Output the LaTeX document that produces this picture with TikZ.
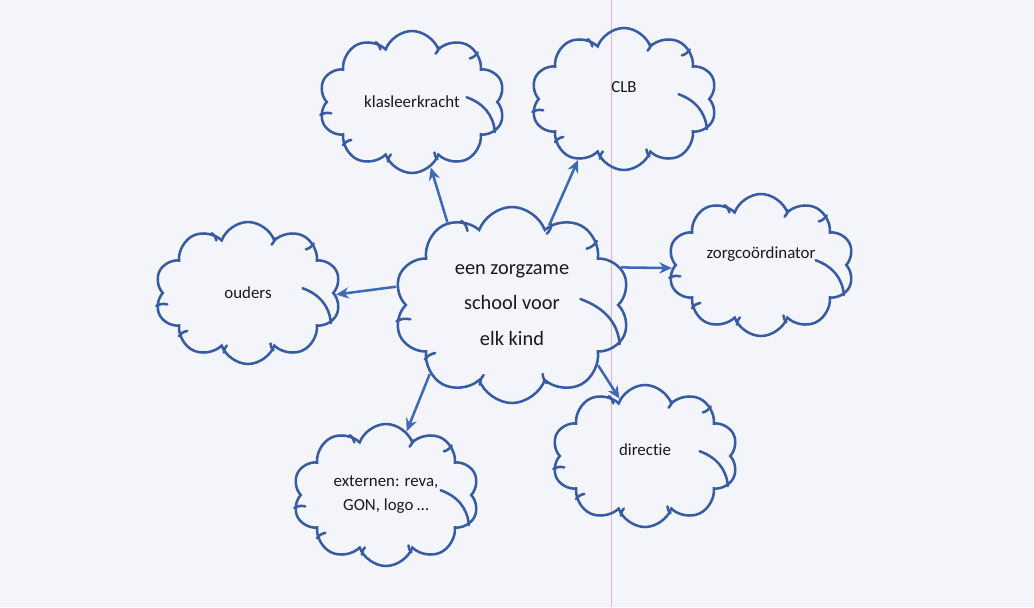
\documentclass[tikz,border=0pt]{standalone}
\usepackage{fontspec}
\setmainfont{Carlito}[Ligatures=NoCommon]
\usetikzlibrary{shapes.symbols,arrows.meta,calc}
\definecolor{paper}{RGB}{243,245,251}
\definecolor{cloudblue}{RGB}{55,92,162}
\definecolor{arrowblue}{RGB}{62,104,184}
\definecolor{marginpink}{RGB}{236,176,204}

\begin{document}
\begin{tikzpicture}[
    bubble/.style={cloud, cloud puffs=10, cloud puff arc=140, cloud ignores aspect,
      draw=cloudblue, line width=1.8pt, minimum width=4.65cm, minimum height=3.55cm,
      align=center, text=black!90, font=\fontsize{12}{17}\selectfont},
    curl/.style={draw=cloudblue, line width=1.8pt, line cap=round},
    link/.style={-{Stealth[length=9pt,width=8pt]}, draw=arrowblue, line width=1.8pt}]
  % sheet and its margin line
  \path[use as bounding box, fill=paper] (0,0) rectangle (25.85,-15.175);
  \draw[marginpink, line width=0.7pt] (15.275,0) -- (15.275,-15.175);

  \node[bubble, minimum width=5.9cm, minimum height=4.9cm,
        font=\fontsize{14.5}{25.5}\selectfont] (school) at (12.8,-7.625)
        {een zorgzame\\school voor\\elk kind};
  \node[bubble] (klas) at (10.3,-2.55) {klasleerkracht};
  \node[bubble, text depth=0.6cm] (clb) at (15.6,-2.475) {CLB};
  \node[bubble, text depth=0.6cm] (coord) at (19.025,-6.625) {zorgco\"ordinator};
  \node[bubble] (ouders) at (6.2,-7.325) {ouders};
  \node[bubble] (extern) at (9.65,-12.375) {externen: reva,\\GON, logo \dots};
  \node[bubble, text depth=0.3cm] (directie) at (16.125,-11.4) {directie};

  % little inner curls of every cloud
  \foreach \n in {school,klas,clb,coord,ouders,extern,directie} {
    \foreach \a in {188,121,64,37,294,248,212}
      \draw[curl] (\n.\a) to[bend left=20] ($(\n.\a)!0.12!(\n.center)$);
    \draw[curl] (\n.340) to[out=95,in=-20] ($(\n.center)!0.6!(\n.5)$);
  }

  \draw[link] (school.128) -- (klas.286);
  \draw[link] (school.65) -- (clb.233);
  \draw[link] (school.19) -- (coord.182);
  \draw[link] (school.171) -- (ouders.359);
  \draw[link] (school.220) -- (extern.72);
  \draw[link] (school.325) -- (directie.114);
\end{tikzpicture}
\end{document}
